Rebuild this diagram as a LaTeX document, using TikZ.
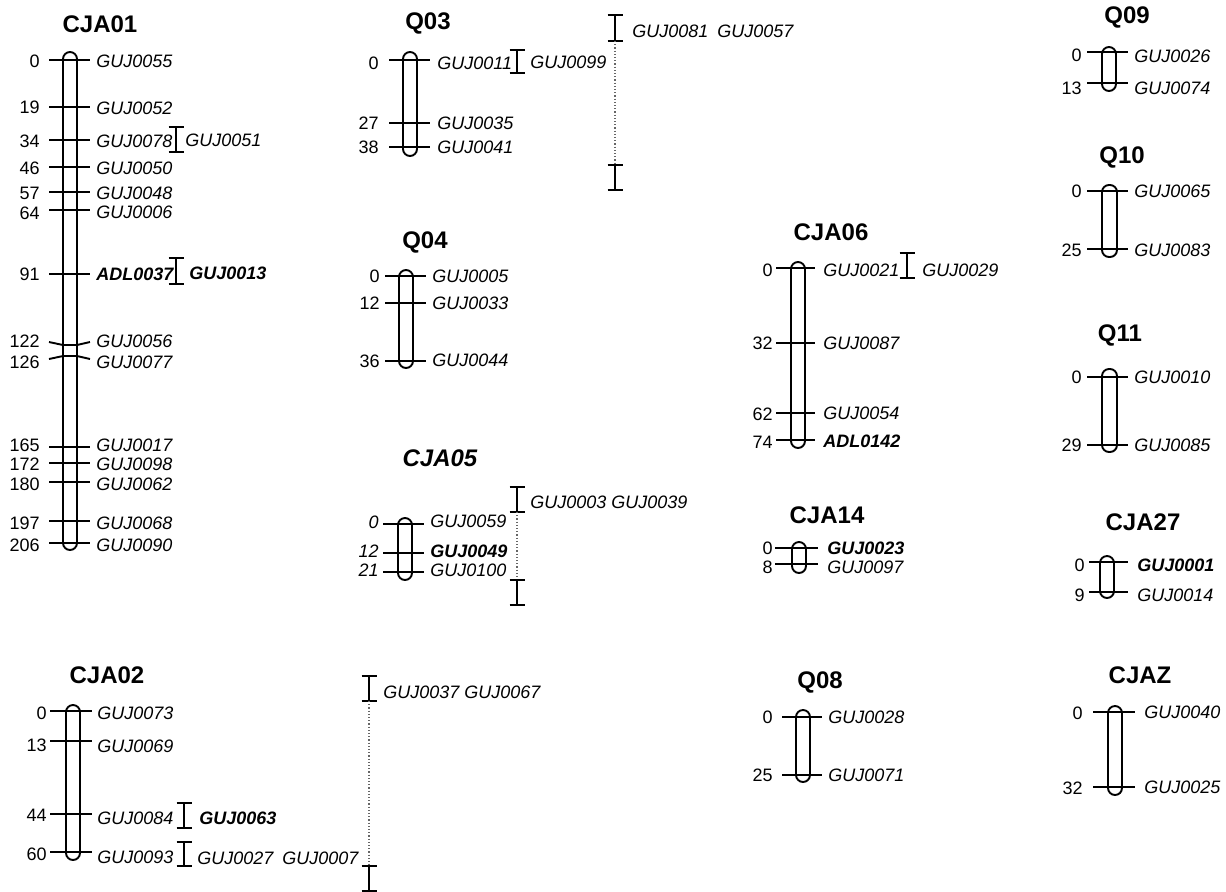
\documentclass[tikz,border=0pt]{standalone}
\usepackage{fontspec}
\setmainfont{Liberation Sans}
\tikzset{
 chr/.style={draw=black, line width=0.95pt, rounded corners=3.5pt},
 tick/.style={line width=0.95pt},
 brk/.style={line width=0.75pt},
 dotln/.style={densely dotted, line width=0.6pt, black!60},
 num/.style={anchor=east, inner sep=0pt, font=\fontsize{9}{11}\selectfont},
 numi/.style={anchor=east, inner sep=0pt, font=\fontsize{9}{11}\selectfont\itshape},
 lab/.style={anchor=west, inner sep=0pt, font=\fontsize{9}{11}\selectfont\itshape},
 labb/.style={anchor=west, inner sep=0pt, font=\fontsize{9}{11}\selectfont\bfseries\itshape},
 ttl/.style={inner sep=0pt, font=\fontsize{12}{14}\selectfont\bfseries},
 ttli/.style={inner sep=0pt, font=\fontsize{12}{14}\selectfont\bfseries\itshape},
}
% bracket: x, top, bottom
\newcommand\brk[3]{\draw[brk] (#1-7.5,#2) -- (#1+7.5,#2) (#1,#2) -- (#1,#3) (#1-7.5,#3) -- (#1+7.5,#3);}
% tick: x1, x2, y
\newcommand\tk[3]{\draw[tick] (#1,#3) -- (#2,#3);}
\begin{document}
\begin{tikzpicture}[x=0.5pt,y=-0.5pt]
\useasboundingbox (0,0) rectangle (1226,891);

% ---------------- CJA01
\node[ttl] (t1) at (100,24) {CJA01};
\draw[chr] (63,52) rectangle (77,550);
\foreach \y in {60,107,140,167,192,210,274,447,463,482,521,543} {\tk{49}{90}{\y}}
\draw[tick] (49,342) -- (63,345) -- (77,345) -- (90,342);
\draw[tick] (49,359) -- (63,356) -- (77,356) -- (90,359);
\node[num] (a1) at (40,61) {0};
\node[num] (a2) at (40,107) {19};
\node[num] (a3) at (40,141) {34};
\node[num] (a4) at (40,168) {46};
\node[num] (a5) at (40,193) {57};
\node[num] (a6) at (40,213) {64};
\node[num] (a7) at (40,274) {91};
\node[num] (a8) at (40,341) {122};
\node[num] (a9) at (40,362) {126};
\node[num] (a10) at (40,445) {165};
\node[num] (a11) at (40,464) {172};
\node[num] (a12) at (40,484) {180};
\node[num] (a13) at (40,523) {197};
\node[num] (a14) at (40,545) {206};
\node[lab] (b1) at (96,61) {GUJ0055};
\node[lab] (b2) at (96,108) {GUJ0052};
\node[lab] (b3) at (96,141) {GUJ0078};
\node[lab] (b4) at (96,168) {GUJ0050};
\node[lab] (b5) at (96,193) {GUJ0048};
\node[lab] (b6) at (96,212) {GUJ0006};
\node[labb] (b7) at (96,274) {ADL0037};
\node[lab] (b8) at (96,341) {GUJ0056};
\node[lab] (b9) at (96,362) {GUJ0077};
\node[lab] (b10) at (96,445) {GUJ0017};
\node[lab] (b11) at (96,464) {GUJ0098};
\node[lab] (b12) at (96,484) {GUJ0062};
\node[lab] (b13) at (96,523) {GUJ0068};
\node[lab] (b14) at (96,545) {GUJ0090};
\brk{176}{127}{152}
\node[lab] (b15) at (185,140) {GUJ0051};
\brk{176}{258}{284}
\node[labb] (b16) at (189,273) {GUJ0013};

% ---------------- Q03
\node[ttl] (t2) at (428,23) {Q03};
\draw[chr] (403,52) rectangle (417,156);
\foreach \y in {60,123,147} {\tk{389}{430}{\y}}
\node[num] (c1) at (379,63) {0};
\node[num] (c2) at (379,123) {27};
\node[num] (c3) at (379,147) {38};
\node[lab] (d1) at (437,63) {GUJ0011};
\node[lab] (d2) at (437,123) {GUJ0035};
\node[lab] (d3) at (437,147) {GUJ0041};
\brk{517}{50}{73}
\node[lab] (d4) at (530,62) {GUJ0099};
\brk{615}{15}{41}
\draw[dotln] (615,41) -- (615,165);
\brk{615}{165}{190}
\node[lab] (d5) at (632,31) {GUJ0081\hspace{4.5pt}GUJ0057};

% ---------------- Q04
\node[ttl] (t3) at (425,242) {Q04};
\draw[chr] (399,270) rectangle (413,368);
\foreach \y in {276,303,361} {\tk{385}{426}{\y}}
\node[num] (e1) at (380,276) {0};
\node[num] (e2) at (380,303) {12};
\node[num] (e3) at (380,361) {36};
\node[lab] (f1) at (432,276) {GUJ0005};
\node[lab] (f2) at (432,303) {GUJ0033};
\node[lab] (f3) at (432,360) {GUJ0044};

% ---------------- CJA05
\node[ttli] (t4) at (440,458) {CJA05};
\draw[chr] (398,518) rectangle (412,580);
\foreach \y in {524,553,572} {\tk{383}{424}{\y}}
\node[numi] (g1) at (379,522) {0};
\node[numi] (g2) at (379,551) {12};
\node[numi] (g3) at (379,570) {21};
\node[lab] (h1) at (430,521) {GUJ0059};
\node[labb] (h2) at (430,551) {GUJ0049};
\node[lab] (h3) at (430,570) {GUJ0100};
\brk{517}{487}{512}
\draw[dotln] (517,512) -- (517,580);
\brk{517}{580}{605}
\node[lab] (h4) at (530,502) {GUJ0003 GUJ0039};

% ---------------- CJA02
\node[ttl] (t5) at (107,675) {CJA02};
\draw[chr] (66,705) rectangle (80,860);
\foreach \y in {711,741,814,852} {\tk{50}{92}{\y}}
\node[num] (i1) at (47,713) {0};
\node[num] (i2) at (47,745) {13};
\node[num] (i3) at (47,815) {44};
\node[num] (i4) at (47,854) {60};
\node[lab] (j1) at (97,713) {GUJ0073};
\node[lab] (j2) at (97,746) {GUJ0069};
\node[lab] (j3) at (97,818) {GUJ0084};
\node[lab] (j4) at (97,857) {GUJ0093};
\brk{184}{803}{828}
\node[labb] (j5) at (199,818) {GUJ0063};
\brk{184}{842}{866}
\node[lab] (j6) at (197,858) {GUJ0027\hspace{4.5pt}GUJ0007};
\brk{369}{676}{701}
\draw[dotln] (369,701) -- (369,866);
\brk{369}{866}{891}
\node[lab] (j7) at (383,692) {GUJ0037 GUJ0067};

% ---------------- CJA06
\node[ttl] (t6) at (831,232) {CJA06};
\draw[chr] (791,262) rectangle (805,448);
\foreach \y in {268,343,413,440} {\tk{776}{815}{\y}}
\node[num] (k1) at (773,270) {0};
\node[num] (k2) at (773,343) {32};
\node[num] (k3) at (773,414) {62};
\node[num] (k4) at (773,442) {74};
\node[lab] (l1) at (823,270) {GUJ0021};
\node[lab] (l2) at (823,343) {GUJ0087};
\node[lab] (l3) at (823,413) {GUJ0054};
\node[labb] (l4) at (823,441) {ADL0142};
\brk{907}{253}{278}
\node[lab] (l5) at (922,270) {GUJ0029};

% ---------------- CJA14
\node[ttl] (t7) at (827,515) {CJA14};
\draw[chr] (792,542) rectangle (806,573);
\foreach \y in {548,564} {\tk{775}{818}{\y}}
\node[num] (m1) at (773,548) {0};
\node[num] (m2) at (773,567) {8};
\node[labb] (n1) at (827,548) {GUJ0023};
\node[lab] (n2) at (827,567) {GUJ0097};

% ---------------- Q08
\node[ttl] (t8) at (820,682) {Q08};
\draw[chr] (796,710) rectangle (810,782);
\foreach \y in {717,775} {\tk{782}{822}{\y}}
\node[num] (o1) at (773,717) {0};
\node[num] (o2) at (773,775) {25};
\node[lab] (p1) at (828,717) {GUJ0028};
\node[lab] (p2) at (828,775) {GUJ0071};

% ---------------- Q09
\node[ttl] (t9) at (1127,17) {Q09};
\draw[chr] (1102,47) rectangle (1116,91);
\foreach \y in {52,83} {\tk{1087}{1128}{\y}}
\node[num] (q1) at (1082,55) {0};
\node[num] (q2) at (1082,88) {13};
\node[lab] (r1) at (1134,56) {GUJ0026};
\node[lab] (r2) at (1134,88) {GUJ0074};

% ---------------- Q10
\node[ttl] (t10) at (1122,157) {Q10};
\draw[chr] (1102,185) rectangle (1117,257);
\foreach \y in {191,249} {\tk{1087}{1128}{\y}}
\node[num] (s1) at (1082,191) {0};
\node[num] (s2) at (1082,250) {25};
\node[lab] (u1) at (1134,191) {GUJ0065};
\node[lab] (u2) at (1134,250) {GUJ0083};

% ---------------- Q11
\node[ttl] (t11) at (1120,335) {Q11};
\draw[chr] (1102,369) rectangle (1117,452);
\foreach \y in {377,445} {\tk{1087}{1128}{\y}}
\node[num] (v1) at (1082,377) {0};
\node[num] (v2) at (1082,445) {29};
\node[lab] (w1) at (1134,377) {GUJ0010};
\node[lab] (w2) at (1134,445) {GUJ0085};

% ---------------- CJA27
\node[ttl] (t12) at (1143,522) {CJA27};
\draw[chr] (1100,556) rectangle (1114,598);
\foreach \y in {562,592} {\tk{1089}{1128}{\y}}
\node[num] (x1) at (1085,565) {0};
\node[num] (x2) at (1085,595) {9};
\node[labb] (z1) at (1137,565) {GUJ0001};
\node[lab] (z2) at (1137,595) {GUJ0014};

% ---------------- CJAZ
\node[ttl] (t13) at (1140,675) {CJAZ};
\draw[chr] (1108,706) rectangle (1122,795);
\foreach \y in {712,787} {\tk{1093}{1135}{\y}}
\node[num] (y1) at (1083,713) {0};
\node[num] (y2) at (1083,788) {32};
\node[lab] (yy1) at (1144,712) {GUJ0040};
\node[lab] (yy2) at (1144,787) {GUJ0025};
\end{tikzpicture}
\end{document}
